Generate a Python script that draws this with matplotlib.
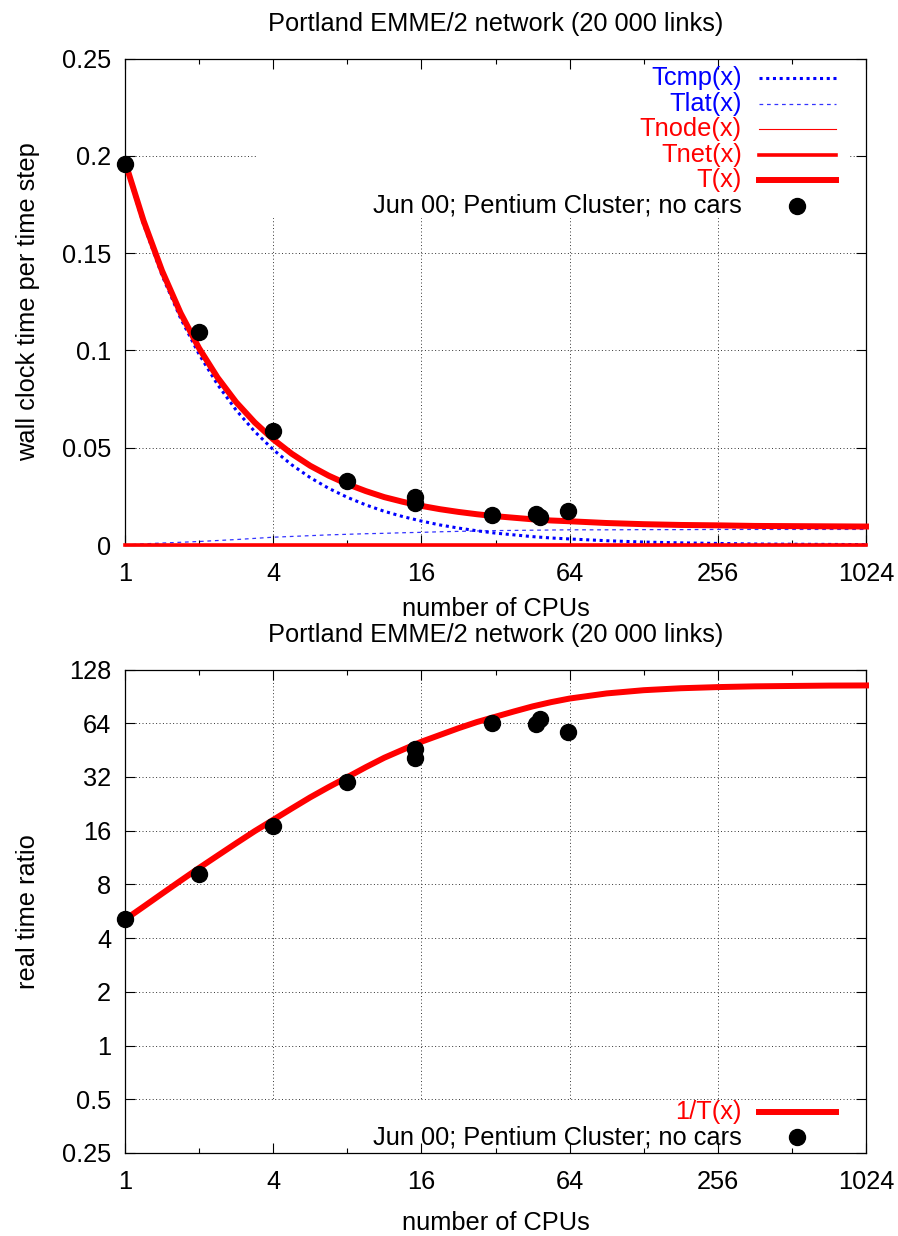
import matplotlib
matplotlib.use('Agg')
from matplotlib import pyplot as plt
from matplotlib.lines import Line2D
from matplotlib.patches import Rectangle

plt.rcParams['font.family'] = ['Liberation Sans', 'DejaVu Sans']
plt.rcParams['font.size'] = 18.3

# measured runs (Jun 00; Pentium Cluster; no cars)
cpus = [1, 2, 4, 8, 15, 15, 31, 46.7, 48.5, 63]
t_step = [0.196, 0.1096, 0.0587, 0.033, 0.0245, 0.0215, 0.0154, 0.0159, 0.0143, 0.0175]
rt_ratio = [5.1, 9.1, 17.0, 30.0, 41.0, 46.0, 64.5, 63.0, 67.5, 57.0]

# model curves
x_fit = [1, 1.189, 1.414, 1.682, 2, 2.378, 2.828, 3.364, 4, 4.757, 5.657, 6.727,
         8, 9.514, 11.31, 13.45, 16, 19.03, 22.63, 26.91, 32, 38.05, 45.25, 53.82,
         64, 90.5, 128, 181, 256, 362, 512, 724, 1024]
tcmp = [0.1960, 0.1648, 0.1386, 0.1165, 0.0980, 0.0824, 0.0693, 0.0583, 0.0490,
        0.0412, 0.0346, 0.0291, 0.0245, 0.0206, 0.0173, 0.0146, 0.0123, 0.0103,
        0.0087, 0.0073, 0.0061, 0.0052, 0.0043, 0.0036, 0.0031, 0.0022, 0.0015,
        0.0011, 0.0008, 0.0005, 0.0004, 0.0003, 0.0002]
tlat = [0.0, 0.0006, 0.0010, 0.0014, 0.0018, 0.0023, 0.0028, 0.0034, 0.0040,
        0.0044, 0.0048, 0.0052, 0.0055, 0.0058, 0.0060, 0.0063, 0.0065, 0.0068,
        0.0070, 0.0072, 0.0074, 0.0075, 0.0076, 0.0077, 0.0078, 0.0078, 0.0079,
        0.0079, 0.0080, 0.0080, 0.0080, 0.0080, 0.0080]
tnode = [0.0] * len(x_fit)
tnet = [0.0] * len(x_fit)
ttot = [0.1970, 0.1667, 0.1409, 0.1192, 0.1011, 0.0860, 0.0734, 0.0630, 0.0543,
        0.0469, 0.0407, 0.0356, 0.0313, 0.0277, 0.0246, 0.0222, 0.0201, 0.0184,
        0.0170, 0.0158, 0.0148, 0.0140, 0.0132, 0.0126, 0.0122, 0.0113, 0.0107,
        0.0103, 0.0101, 0.0098, 0.0097, 0.0096, 0.0095]
inv_t = [5.08, 6.0, 7.1, 8.39, 9.89, 11.6, 13.6, 15.9, 18.4, 21.3, 24.6, 28.1,
         31.9, 36.3, 41.0, 45.5, 50.4, 55.0, 60.0, 65.0, 69.6, 74.5, 79.5, 84.0,
         88.0, 94.0, 98.0, 100.5, 102.0, 103.0, 103.5, 104.0, 104.2]

xticks = [1, 4, 16, 64, 256, 1024]
xminor = [2, 8, 32, 128, 512]
yticks_top = [0, 0.05, 0.1, 0.15, 0.2, 0.25]
ylabels_top = ['0', '0.05', '0.1', '0.15', '0.2', '0.25']
yticks_bot = [0.25, 0.5, 1, 2, 4, 8, 16, 32, 64, 128]
ylabels_bot = ['0.25', '0.5', '1', '2', '4', '8', '16', '32', '64', '128']

title = 'Portland EMME/2 network (20 000 links)'
BLUE = '#0000ff'
RED = '#ff0000'
FS = 18.3
W, H = 898, 1236
grid_ls = (0, (1, 2.5))

fig = plt.figure(figsize=(W / 100, H / 100), dpi=100)
ax1 = fig.add_axes([125 / W, 1 - 545 / H, 741 / W, 486.5 / H])
ax2 = fig.add_axes([125 / W, 1 - 1153 / H, 741 / W, 483.5 / H])


def setup(ax, yt, yl, box):
    ax.set_xscale('log', base=2)
    ax.set_xlim(1, 1024)
    ax.set_xticks(xticks)
    ax.set_xticklabels([str(v) for v in xticks])
    ax.set_yticks(yt)
    ax.set_yticklabels(yl)
    ax.minorticks_off()
    ax.set_xticks(xminor, minor=True)
    ax.set_xticklabels([], minor=True)
    ax.tick_params(which='both', direction='in', top=True, right=True, width=0.8)
    ax.tick_params(which='major', length=7)
    ax.tick_params(which='minor', length=3.5)
    ax.tick_params(axis='x', which='major', pad=12.5)
    ax.tick_params(axis='y', which='major', pad=10)
    for s in ax.spines.values():
        s.set_linewidth(0.9)
    # dotted grid, hidden behind the key area
    for v in xticks[1:-1]:
        ax.axvline(v, color='0.2', lw=0.7, ls=grid_ls, zorder=1)
    for v in yt[1:-1]:
        ax.axhline(v, color='0.2', lw=0.7, ls=grid_ls, zorder=1)
    ax.add_patch(Rectangle((box[0], box[1]), box[2] - box[0], box[3] - box[1],
                           transform=ax.transAxes, facecolor='white',
                           edgecolor='none', zorder=1.2))
    ax.set_title(title, pad=20, fontsize=FS)
    ax.set_xlabel('number of CPUs', fontsize=FS)


# top panel
ax1.set_ylim(0, 0.25)
setup(ax1, yticks_top, ylabels_top, (0.178, 0.672, 0.978, 1.0))
ax1.plot(x_fit, tcmp, color=BLUE, lw=2.2, ls=(0, (1, 1.2)), zorder=3, clip_on=False)
ax1.plot(x_fit, tlat, color=BLUE, lw=0.9, ls=(0, (3, 3)), alpha=0.8, zorder=3, clip_on=False)
ax1.plot(x_fit, tnode, color=RED, lw=0.8, zorder=3, clip_on=False)
ax1.plot(x_fit, tnet, color=RED, lw=2.6, zorder=3, clip_on=False)
ax1.plot(x_fit, ttot, color=RED, lw=4.3, zorder=3, clip_on=False)
ax1.plot(cpus, t_step, 'o', color='black', ms=11.5, zorder=4, clip_on=False)
ax1.set_ylabel('wall clock time per time step', fontsize=FS)
ax1.yaxis.set_label_coords(-0.115, 0.5)
ax1.xaxis.set_label_coords(0.5, -0.107)

# bottom panel
ax2.set_yscale('log', base=2)
ax2.set_ylim(0.25, 128)
setup(ax2, yticks_bot, ylabels_bot, (0.178, 0.0, 0.978, 0.11))
ax2.plot(x_fit, inv_t, color=RED, lw=4.3, zorder=3, clip_on=False)
ax2.plot(cpus, rt_ratio, 'o', color='black', ms=11.5, zorder=4, clip_on=False)
ax2.set_ylabel('real time ratio', fontsize=FS)
ax2.yaxis.set_label_coords(-0.115, 0.5)
ax2.xaxis.set_label_coords(0.5, -0.12)


# key: right aligned labels, sample to the right
def key(ax, rows, y0_px, bottom_px, height_px):
    for i, (label, color, style) in enumerate(rows):
        py = y0_px + i * 25.5
        yy = (bottom_px - py) / height_px
        ax.text((742 - 125) / 741, yy, label, color=color, ha='right', va='center',
                transform=ax.transAxes, fontsize=FS, zorder=5)
        if style == 'marker':
            ax.add_line(Line2D([(797 - 125) / 741], [yy], marker='o', color='black',
                               ms=11.5, transform=ax.transAxes, zorder=5))
        else:
            ax.add_line(Line2D([(759 - 125) / 741, (836 - 125) / 741], [yy, yy],
                               transform=ax.transAxes, zorder=5, **style))


key(ax1, [('Tcmp(x)', BLUE, dict(color=BLUE, lw=2.2, ls=(0, (1, 1.2)))),
          ('Tlat(x)', BLUE, dict(color=BLUE, lw=0.9, ls=(0, (3, 3)), alpha=0.8)),
          ('Tnode(x)', RED, dict(color=RED, lw=0.8)),
          ('Tnet(x)', RED, dict(color=RED, lw=2.6)),
          ('T(x)', RED, dict(color=RED, lw=4.3)),
          ('Jun 00; Pentium Cluster; no cars', 'black', 'marker')],
    78.3, 545, 486.5)
key(ax2, [('1/T(x)', RED, dict(color=RED, lw=4.3)),
          ('Jun 00; Pentium Cluster; no cars', 'black', 'marker')],
    1111.7, 1153, 483.5)

plt.savefig('out.png', dpi=100)
